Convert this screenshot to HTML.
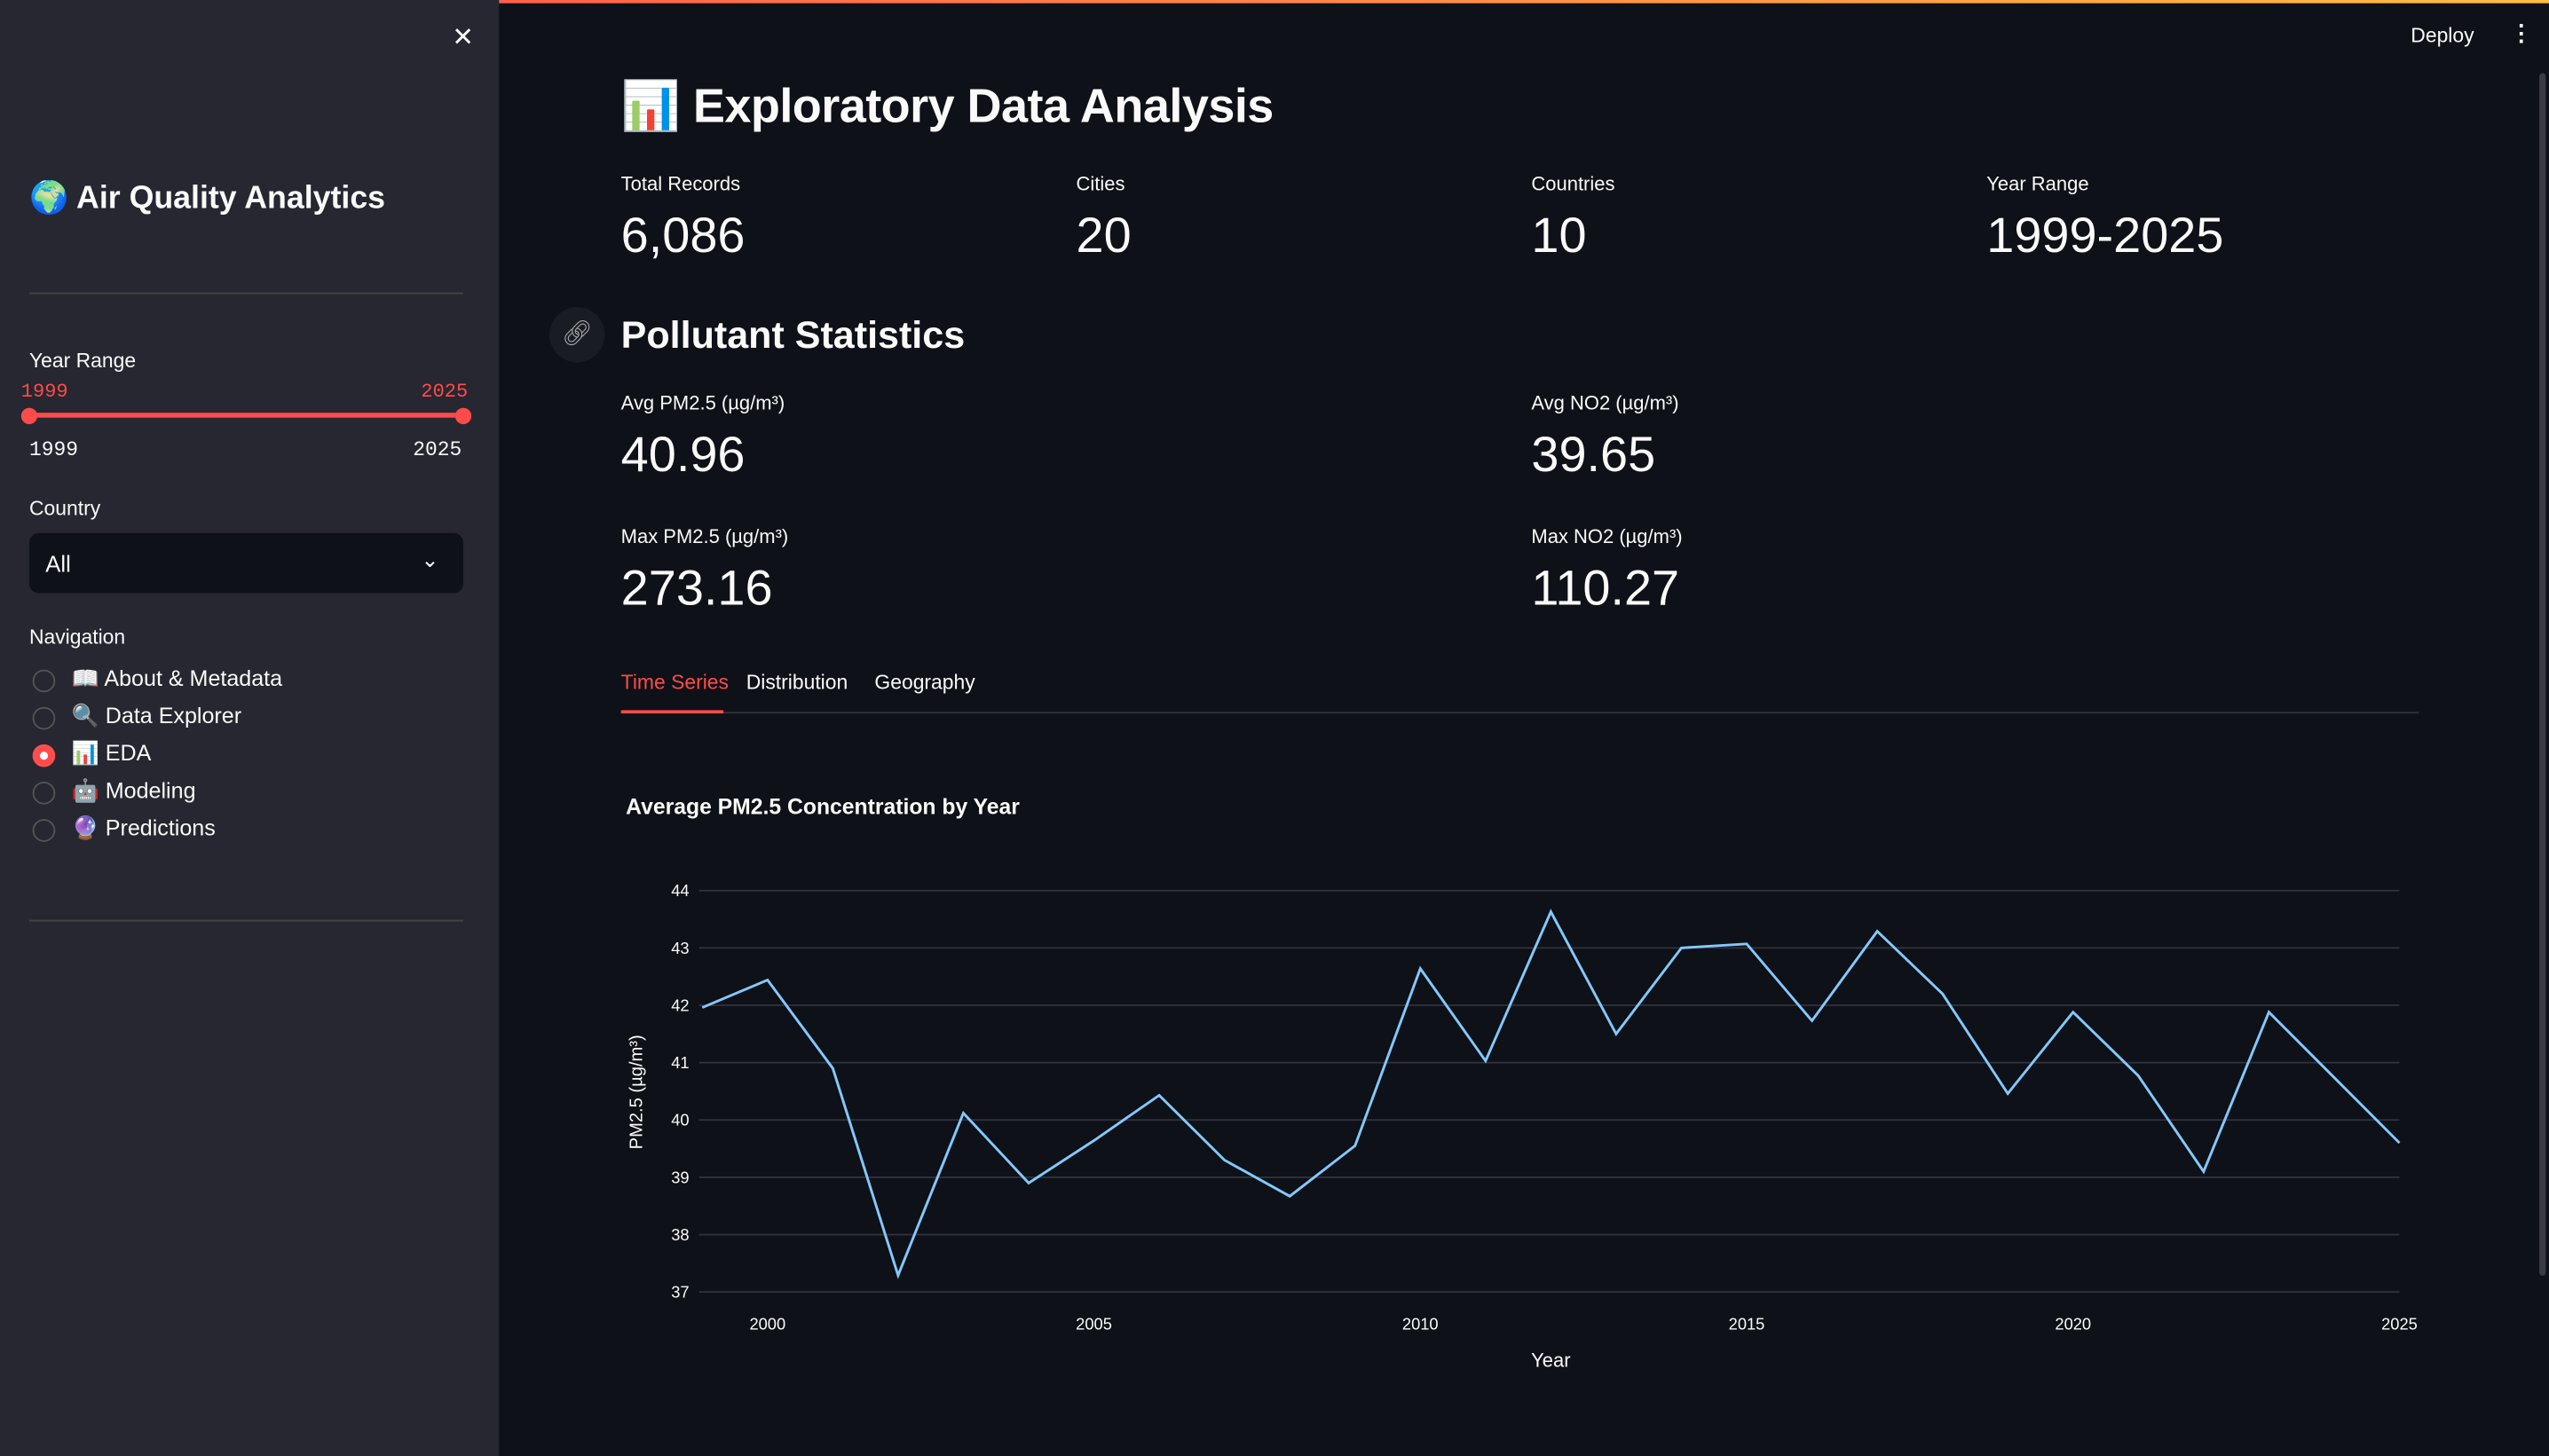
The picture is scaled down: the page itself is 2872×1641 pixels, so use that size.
<!DOCTYPE html>
<html><head><meta charset="utf-8">
<style>
html,body{margin:0;padding:0;width:2872px;height:1640px;overflow:hidden;background:#0e1117;}
#wrap{position:absolute;left:0;top:0;width:1568px;height:896px;transform:scale(1.83163);transform-origin:0 0;font-family:"Liberation Sans","Noto Sans CJK JP",sans-serif;color:#fafafa;}
.abs{position:absolute;}
#side{left:0;top:0;width:307px;height:896px;background:#262730;}
.lbl{font-size:12.5px;color:#fafafa;}
.metric-l{font-size:12px;}
.metric-v{font-size:30.5px;}
.radio{position:absolute;left:20px;width:12px;height:12px;border:1px solid #555;border-radius:50%;}
.nav{position:absolute;left:44px;font-size:13.7px;}
.tick{font-size:10px;fill:#fafafa;font-family:"Liberation Sans",sans-serif;}
</style></head><body>
<div id="wrap">
<div class="abs" style="left:0;top:0;width:1568px;height:1.5px;background:linear-gradient(90deg,#ff4b4b,#ffbd45);"></div>
<div id="side" class="abs">
  <div class="abs" style="left:278px;top:13px;font-size:16px;">✕</div>
  <div class="abs" style="left:18px;top:110px;font-size:19.5px;font-weight:bold;">🌍 Air Quality Analytics</div>
  <div class="abs" style="left:18px;top:180px;width:267px;height:1px;background:#444;"></div>
  <div class="abs lbl" style="left:18px;top:215px;">Year Range</div>
  <div class="abs" style="left:13px;top:234px;font-size:12px;color:#ff4b4b;font-family:'Liberation Mono',monospace;">1999</div>
  <div class="abs" style="left:259px;top:234px;font-size:12px;color:#ff4b4b;font-family:'Liberation Mono',monospace;">2025</div>
  <div class="abs" style="left:18px;top:254px;width:267px;height:3px;background:#ff4b4b;"></div>
  <div class="abs" style="left:13px;top:251px;width:10px;height:10px;border-radius:50%;background:#ff4b4b;"></div>
  <div class="abs" style="left:280px;top:251px;width:10px;height:10px;border-radius:50%;background:#ff4b4b;"></div>
  <div class="abs" style="left:18px;top:270px;font-size:12.5px;font-family:'Liberation Mono',monospace;">1999</div>
  <div class="abs" style="left:254px;top:270px;font-size:12.5px;font-family:'Liberation Mono',monospace;">2025</div>
  <div class="abs lbl" style="left:18px;top:306px;">Country</div>
  <div class="abs" style="left:18px;top:328px;width:267px;height:37px;background:#0e1117;border-radius:6px;">
    <div class="abs" style="left:10px;top:11px;font-size:14px;">All</div>
    <div class="abs" style="left:241px;top:9px;font-size:13px;">⌄</div>
  </div>
  <div class="abs lbl" style="left:18px;top:385px;">Navigation</div>
  <div class="radio" style="top:412px;"></div>
  <div class="nav" style="top:410px;">📖 About &amp; Metadata</div>
  <div class="radio" style="top:435px;"></div>
  <div class="nav" style="top:433px;">🔍 Data Explorer</div>
  <div class="radio" style="top:458px;background:#ff4b4b;border-color:#ff4b4b;box-shadow:inset 0 0 0 3.5px #ff4b4b,inset 0 0 0 6px #fff;"></div>
  <div class="nav" style="top:456px;">📊 EDA</div>
  <div class="radio" style="top:481px;"></div>
  <div class="nav" style="top:479px;">🤖 Modeling</div>
  <div class="radio" style="top:504px;"></div>
  <div class="nav" style="top:502px;">🔮 Predictions</div>
  <div class="abs" style="left:18px;top:566px;width:267px;height:1px;background:#444;"></div>
</div>
<div class="abs" style="left:1483px;top:15px;font-size:12.5px;">Deploy</div>
<div class="abs" style="left:1544px;top:12px;font-size:14px;font-weight:bold;">⋮</div>
<div class="abs" style="left:1562px;top:45px;width:4px;height:740px;background:#3a3b42;border-radius:2px;"></div>

<div class="abs" style="left:382px;top:49px;font-size:29.5px;font-weight:bold;letter-spacing:-0.3px;">📊 Exploratory Data Analysis</div>
<div class="abs metric-l" style="left:382px;top:106px;">Total Records</div>
<div class="abs metric-v" style="left:382px;top:128px;">6,086</div>
<div class="abs metric-l" style="left:662px;top:106px;">Cities</div>
<div class="abs metric-v" style="left:662px;top:128px;">20</div>
<div class="abs metric-l" style="left:942px;top:106px;">Countries</div>
<div class="abs metric-v" style="left:942px;top:128px;">10</div>
<div class="abs metric-l" style="left:1222px;top:106px;">Year Range</div>
<div class="abs metric-v" style="left:1222px;top:128px;">1999-2025</div>

<div class="abs" style="left:338px;top:189px;width:34px;height:34px;border-radius:50%;background:#1a1c24;color:#aaa;font-size:15px;text-align:center;line-height:34px;">🔗︎</div>
<div class="abs" style="left:382px;top:193px;font-size:23.5px;font-weight:bold;">Pollutant Statistics</div>
<div class="abs metric-l" style="left:382px;top:241px;">Avg PM2.5 (µg/m³)</div>
<div class="abs metric-v" style="left:382px;top:263px;">40.96</div>
<div class="abs metric-l" style="left:942px;top:241px;">Avg NO2 (µg/m³)</div>
<div class="abs metric-v" style="left:942px;top:263px;">39.65</div>
<div class="abs metric-l" style="left:382px;top:323px;">Max PM2.5 (µg/m³)</div>
<div class="abs metric-v" style="left:382px;top:345px;">273.16</div>
<div class="abs metric-l" style="left:942px;top:323px;">Max NO2 (µg/m³)</div>
<div class="abs metric-v" style="left:942px;top:345px;">110.27</div>

<div class="abs" style="left:382px;top:413px;font-size:12.5px;color:#ff4b4b;">Time Series</div>
<div class="abs" style="left:459px;top:413px;font-size:12.5px;">Distribution</div>
<div class="abs" style="left:538px;top:413px;font-size:12.5px;">Geography</div>
<div class="abs" style="left:382px;top:438px;width:1106px;height:1px;background:#31333f;"></div>
<div class="abs" style="left:382px;top:437px;width:63px;height:2px;background:#ff4b4b;"></div>

<svg class="abs" style="left:0;top:0;" width="1568" height="896" id="chart">
<text x="385" y="501" font-size="13.5" font-weight="bold" fill="#fafafa" font-family="Liberation Sans,sans-serif">Average PM2.5 Concentration by Year</text>
<text x="954" y="841" font-size="12" fill="#fafafa" text-anchor="middle" font-family="Liberation Sans,sans-serif">Year</text>
<text transform="translate(395,672) rotate(-90)" font-size="11" fill="#fafafa" text-anchor="middle" font-family="Liberation Sans,sans-serif">PM2.5 (µg/m³)</text>
<g id="grid"></g><g id="ticks"></g><g id="marks"></g>
</svg>
</div>
<script>
const years=[1999,2000,2001,2002,2003,2004,2005,2006,2007,2008,2009,2010,2011,2012,2013,2014,2015,2016,2017,2018,2019,2020,2021,2022,2023,2024,2025];
const pm25=[41.96,42.44,40.9,37.29,40.12,38.9,39.64,40.43,39.3,38.67,39.55,42.64,41.03,43.63,41.5,43.0,43.07,41.73,43.29,42.2,40.46,41.88,40.77,39.1,41.88,40.74,39.6];
const yTicks=[37,38,39,40,41,42,43,44];
const xTicks=[2000,2005,2010,2015,2020,2025];
const NS='http://www.w3.org/2000/svg';
const X=v=>432+(v-1999)*(1476-432)/26;
const Y=v=>795-(v-37)*(795-548)/7;
const grid=document.getElementById('grid'),ticks=document.getElementById('ticks'),marks=document.getElementById('marks');
yTicks.forEach(t=>{
  const l=document.createElementNS(NS,'line');
  l.setAttribute('x1',430);l.setAttribute('x2',1476);l.setAttribute('y1',Y(t));l.setAttribute('y2',Y(t));
  l.setAttribute('stroke','#31333f');l.setAttribute('stroke-width','1');
  
  
  grid.appendChild(l);
  const tx=document.createElementNS(NS,'text');
  tx.setAttribute('x',424);tx.setAttribute('y',Y(t)+3.5);tx.setAttribute('text-anchor','end');tx.setAttribute('class','tick');
  tx.textContent=t;
  
  
  ticks.appendChild(tx);
});
xTicks.forEach(t=>{
  const tx=document.createElementNS(NS,'text');
  tx.setAttribute('x',X(t));tx.setAttribute('y',818);tx.setAttribute('text-anchor','middle');tx.setAttribute('class','tick');
  tx.textContent=t;
  
  
  ticks.appendChild(tx);
});
const p=document.createElementNS(NS,'polyline');
p.setAttribute('points',years.map((y,i)=>X(y)+','+Y(pm25[i])).join(' '));
p.setAttribute('fill','none');p.setAttribute('stroke','#83c9ff');p.setAttribute('stroke-width','1.6');


marks.appendChild(p);
</script>
</body></html>
